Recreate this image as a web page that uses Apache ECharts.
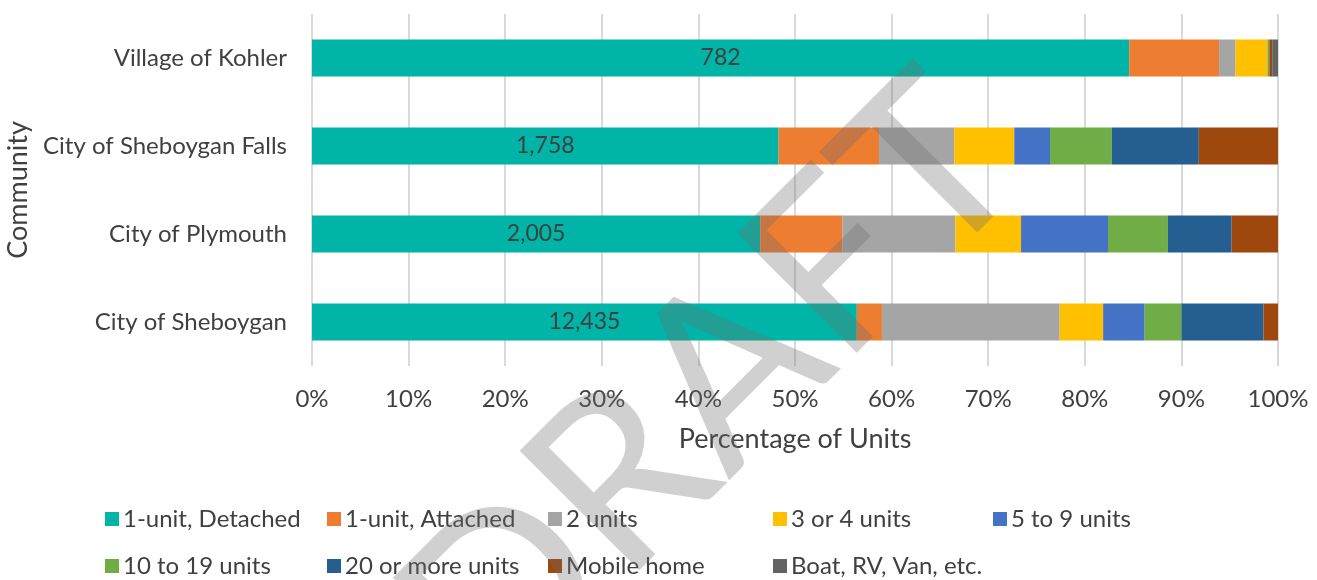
<!DOCTYPE html>
<html>
<head>
<meta charset="utf-8">
<script src="https://cdn.jsdelivr.net/npm/echarts@6/dist/echarts.min.js"></script>
<style>
  html, body { margin: 0; padding: 0; background: #fff; }
  #chart { width: 1317px; height: 580px; }
</style>
</head>
<body>
<div id="chart"></div>
<script>
// communities, bottom to top as drawn
const communities = ['City of Sheboygan', 'City of Plymouth', 'City of Sheboygan Falls', 'Village of Kohler']
// detached unit counts shown on the first segment
const detachedCounts = [12435, 2005, 1758, 782]

const seriesNames = ['1-unit, Detached', '1-unit, Attached', '2 units', '3 or 4 units', '5 to 9 units',
  '10 to 19 units', '20 or more units', 'Mobile home', 'Boat, RV, Van, etc.']
const seriesColors = ['#00B5A8', '#ED7D31', '#A5A5A5', '#FFC000', '#4472C4',
  '#70AD47', '#255E91', '#9E480E', '#636363']

// percentage share per community (same order as communities)
const detached = [56.4, 46.4, 48.3, 84.6]
const attached = [2.6, 8.5, 10.4, 9.3]
const twoUnits = [18.4, 11.7, 7.8, 1.7]
const threeFour = [4.5, 6.8, 6.2, 3.3]
const fiveNine = [4.3, 9.0, 3.7, 0.0]
const tenNineteen = [3.8, 6.2, 6.4, 0.2]
const twentyPlus = [8.5, 6.6, 9.0, 0.0]
const mobileHome = [1.5, 4.8, 8.2, 0.3]
const boatRv = [0.0, 0.0, 0.0, 0.6]

const seriesValues = [detached, attached, twoUnits, threeFour, fiveNine, tenNineteen, twentyPlus, mobileHome, boatRv]

const textColor = '#404040'
const fontFamily = 'Lato, "Open Sans", sans-serif'

const chart = echarts.init(document.getElementById('chart'))

// legend laid out as a grid of 5 columns, one legend per entry
const legendCols = [105, 327, 548, 773, 993]
const legendRows = [507, 554]

const legends = seriesNames.map((name, i) => ({
  left: legendCols[i % 5],
  top: legendRows[Math.floor(i / 5)],
  padding: 0,
  itemWidth: 14,
  itemHeight: 14,
  itemGap: 0,
  icon: 'rect',
  selectedMode: false,
  data: [name],
  textStyle: {
    fontFamily,
    fontSize: 24,
    color: textColor,
    padding: [0, 0, 0, -1]
  }
}))

const option = {
  animation: false,
  textStyle: { fontFamily },
  grid: {
    left: 312,
    right: 39,
    top: 14,
    bottom: 214,
    containLabel: false,
    outerBoundsMode: 'none'
  },
  legend: legends,
  xAxis: {
    type: 'value',
    min: 0,
    max: 100,
    interval: 10,
    axisLine: { show: false },
    axisTick: { show: false },
    axisLabel: {
      formatter: '{value}%',
      fontSize: 24,
      color: textColor,
      margin: 21
    },
    splitLine: {
      lineStyle: { color: '#d9d9d9', width: 2 }
    },
    name: 'Percentage of Units',
    nameLocation: 'middle',
    nameGap: 60,
    nameTextStyle: { fontSize: 27, color: textColor }
  },
  yAxis: {
    type: 'category',
    data: communities,
    axisLine: { show: false },
    axisTick: { show: false },
    axisLabel: {
      fontSize: 24,
      color: textColor,
      margin: 25
    },
    name: 'Community',
    nameLocation: 'middle',
    nameGap: 272,
    nameTextStyle: { fontSize: 27, color: textColor }
  },
  series: seriesNames.map((name, i) => ({
    name,
    type: 'bar',
    stack: 'total',
    barWidth: 37,
    data: seriesValues[i],
    itemStyle: { color: seriesColors[i] },
    label: i === 0 ? {
      show: true,
      position: 'inside',
      fontSize: 23,
      color: textColor,
      formatter: p => detachedCounts[p.dataIndex].toLocaleString('en-US')
    } : { show: false }
  })),
  graphic: [{
    type: 'text',
    x: 712,
    y: 390,
    rotation: Math.PI / 4,
    z: 100,
    silent: true,
    style: {
      text: 'DRAFT',
      font: '236px Lato, sans-serif',
      fill: 'rgba(108,108,108,0.32)',
      align: 'center',
      verticalAlign: 'middle'
    }
  }]
}

chart.setOption(option)
</script>
</body>
</html>
